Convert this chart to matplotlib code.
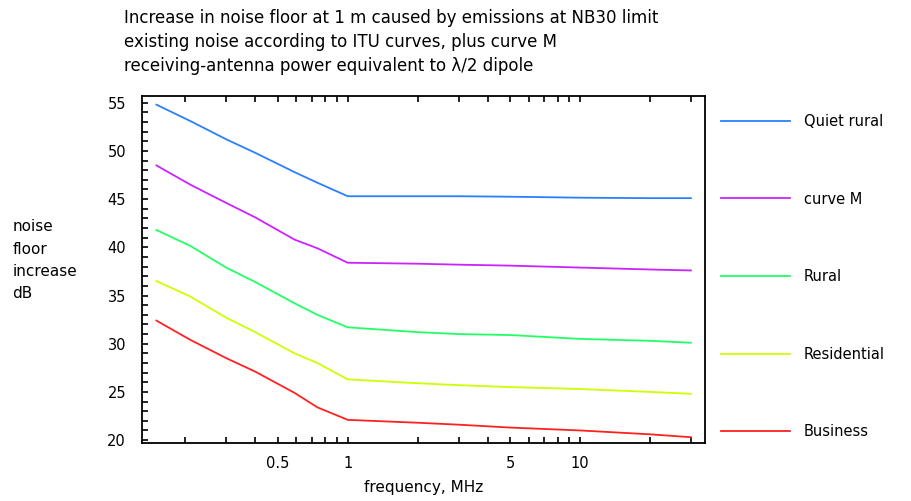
import numpy as np
import matplotlib.pyplot as plt
from matplotlib.ticker import FixedLocator, NullFormatter

freq = [0.15, 0.21, 0.3, 0.4, 0.59, 0.74, 1, 2, 3, 5, 10, 20, 30]

quiet_rural = [54.8, 53.1, 51.2, 49.8, 47.8, 46.7, 45.3, 45.3, 45.3, 45.25, 45.15, 45.1, 45.1]
curve_m = [48.5, 46.5, 44.6, 43.1, 40.8, 39.9, 38.4, 38.3, 38.2, 38.1, 37.9, 37.7, 37.6]
rural = [41.8, 40.15, 37.9, 36.4, 34.2, 33.0, 31.7, 31.2, 31.0, 30.9, 30.5, 30.3, 30.1]
residential = [36.5, 34.9, 32.7, 31.2, 29.0, 28.0, 26.3, 25.9, 25.7, 25.5, 25.3, 25.0, 24.8]
business = [32.4, 30.4, 28.5, 27.1, 24.9, 23.4, 22.1, 21.8, 21.6, 21.3, 21.0, 20.6, 20.3]

names = ["Quiet rural", "curve M", "Rural", "Residential", "Business"]
colors = ["#2a7fff", "#cc22ff", "#22ff66", "#ccff00", "#ff2020"]

fig = plt.figure(figsize=(9.12, 5.01), dpi=100)
ax = fig.add_axes([0.1557, 0.1158, 0.617, 0.6926])

for vals, name, c in zip([quiet_rural, curve_m, rural, residential, business], names, colors):
    ax.plot(freq, vals, color=c, lw=1.3, label=name)

ax.set_xscale("log")
ax.set_xlim(0.13, 34.4)
ax.set_ylim(19.7, 55.7)

major_x = [0.5, 1, 5, 10]
minor_x = [0.2, 0.3, 0.4, 0.6, 0.7, 0.8, 0.9, 2, 3, 4, 6, 7, 8, 9, 20, 30]
ax.xaxis.set_major_locator(FixedLocator(major_x))
ax.xaxis.set_minor_locator(FixedLocator(minor_x))
ax.set_xticklabels(["0.5", "1", "5", "10"])
ax.xaxis.set_minor_formatter(NullFormatter())
ax.set_yticks(np.arange(20, 56, 5))
ax.set_yticks(np.arange(20, 56, 1), minor=True)

ax.tick_params(which="both", direction="in", top=True, right=False, labelsize=10.5, width=1.2)
ax.tick_params(which="major", length=4)
ax.tick_params(which="minor", length=4)
ax.tick_params(axis="x", which="major", pad=9.5)
ax.tick_params(axis="y", which="major", pad=11.5)
for s in ax.spines.values():
    s.set_linewidth(1.3)

ax.set_xlabel("frequency, MHz", fontsize=11, labelpad=6)

fig.text(0.0135, 0.562, "noise\nfloor\nincrease\ndB", fontsize=11, ha="left", va="top", linespacing=1.6)

fig.text(0.136, 0.965, "Increase in noise floor at 1 m caused by emissions at NB30 limit", fontsize=12, va="center")
fig.text(0.136, 0.917, "existing noise according to ITU curves, plus curve M", fontsize=12, va="center")
fig.text(0.136, 0.869, "receiving-antenna power equivalent to \u03bb/2 dipole", fontsize=12, va="center")

ax.legend(loc="upper left", bbox_to_anchor=(1.019, 0.965), frameon=False, fontsize=10.5,
          handlelength=4.75, labelspacing=4.29, handletextpad=0.9, borderaxespad=0)

fig.savefig("out.png", dpi=100)
